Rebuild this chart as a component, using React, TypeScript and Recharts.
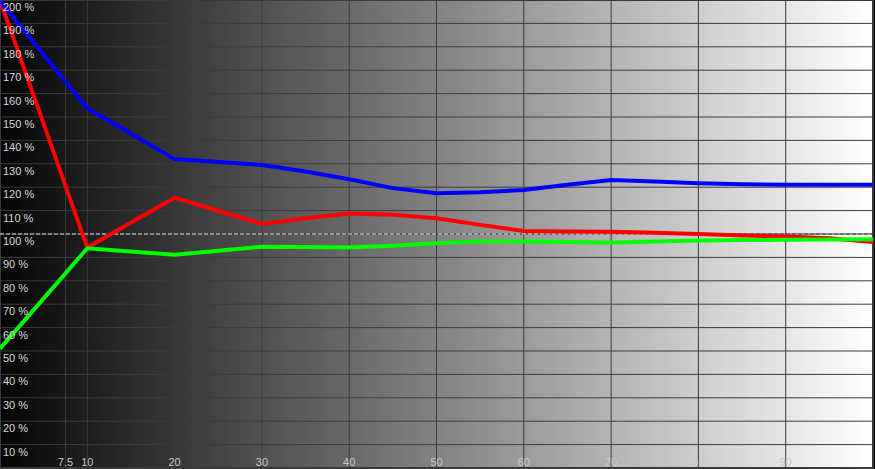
import { LineChart, Line, XAxis, YAxis, CartesianGrid, ReferenceLine, ReferenceArea } from 'recharts'

const levels = [0, 10, 20, 30, 35, 40, 45, 50, 55, 60, 65, 70, 75, 80, 85, 90, 95, 100]
const redValues = [200, 94.2, 115.5, 104.3, 106.7, 108.8, 108.2, 106.7, 103.9, 101.3, 101.1, 101.0, 100.5, 100.0, 99.4, 98.9, 98.2, 96.6]
const greenValues = [51, 93.9, 91.1, 94.6, 94.4, 94.2, 95.0, 96.1, 96.8, 96.8, 96.6, 96.3, 96.8, 97.2, 97.4, 97.5, 97.7, 97.8]
const blueValues = [199.5, 153.7, 132, 129.5, 126.7, 123.4, 119.6, 117.4, 117.8, 118.8, 121.0, 123.1, 122.4, 121.7, 121.3, 121.0, 121.0, 121.0]

const xTicks = [7.5, 10, 20, 30, 40, 50, 60, 70, 80, 90]
const yTicks = [10, 20, 30, 40, 50, 60, 70, 80, 90, 100, 110, 120, 130, 140, 150, 160, 170, 180, 190, 200]

const data = levels.map((level, i) => ({
  level,
  red: redValues[i],
  green: greenValues[i],
  blue: blueValues[i],
}))

const font = '"Liberation Sans", Arial, sans-serif'

// labels sit just above the bottom edge, centred on their grid line
const XTick = (props: any) => {
  const { x, y, payload } = props
  return (
    <text x={x} y={y} dy={6} textAnchor="middle" fill="#c8c8c8" fontSize={11} fontFamily={font}>
      {payload.value}
    </text>
  )
}

// labels hang just under their grid line, flush left
const YTick = (props: any) => {
  const { x, y, payload } = props
  return (
    <text x={x} y={y} dx={-5} dy={11} textAnchor="start" fill="#d8d8d8" fontSize={11} fontFamily={font}>
      {payload.value} %
    </text>
  )
}

export default function App() {
  return (
    <div style={{ position: 'fixed', left: 0, top: 0, background: '#000' }}>
      <LineChart width={875} height={469} data={data} margin={{ top: 0, right: 2, bottom: 1, left: 0 }}>
        <defs>
          <linearGradient id="bgGrad" x1="0" y1="0" x2="1" y2="0">
            <stop offset="0%" stopColor="#050505" />
            <stop offset="100%" stopColor="#ffffff" />
          </linearGradient>
          <linearGradient id="dashGrad" gradientUnits="userSpaceOnUse" x1="0" y1="0" x2="875" y2="0">
            <stop offset="0%" stopColor="#e0e0e0" />
            <stop offset="76%" stopColor="#e0e0e0" />
            <stop offset="80%" stopColor="#404040" />
            <stop offset="100%" stopColor="#404040" />
          </linearGradient>
        </defs>
        <CartesianGrid fill="url(#bgGrad)" fillOpacity={1} stroke="#3c3c3c" strokeOpacity={1} />
        <XAxis
          dataKey="level"
          type="number"
          domain={[0, 100]}
          ticks={xTicks}
          mirror
          height={20}
          axisLine={false}
          tickLine={false}
          tick={XTick}
          interval={0}
        />
        <YAxis
          type="number"
          domain={[0, 200]}
          ticks={yTicks}
          mirror
          width={60}
          axisLine={false}
          tickLine={false}
          tick={YTick}
          interval={0}
        />
        <ReferenceArea x1={0} x2={100} y1={0} y2={200} fill="none" stroke="#3a3a3a" strokeWidth={2} ifOverflow="visible" />
        <ReferenceLine y={100} stroke="url(#dashGrad)" strokeDasharray="4 2" strokeWidth={1} />
        <Line dataKey="red" type="linear" stroke="#ff0000" strokeWidth={4} dot={false} activeDot={false} isAnimationActive={false} />
        <Line dataKey="green" type="linear" stroke="#00ff00" strokeWidth={4} dot={false} activeDot={false} isAnimationActive={false} />
        <Line dataKey="blue" type="linear" stroke="#0000ff" strokeWidth={4} dot={false} activeDot={false} isAnimationActive={false} />
      </LineChart>
    </div>
  )
}
